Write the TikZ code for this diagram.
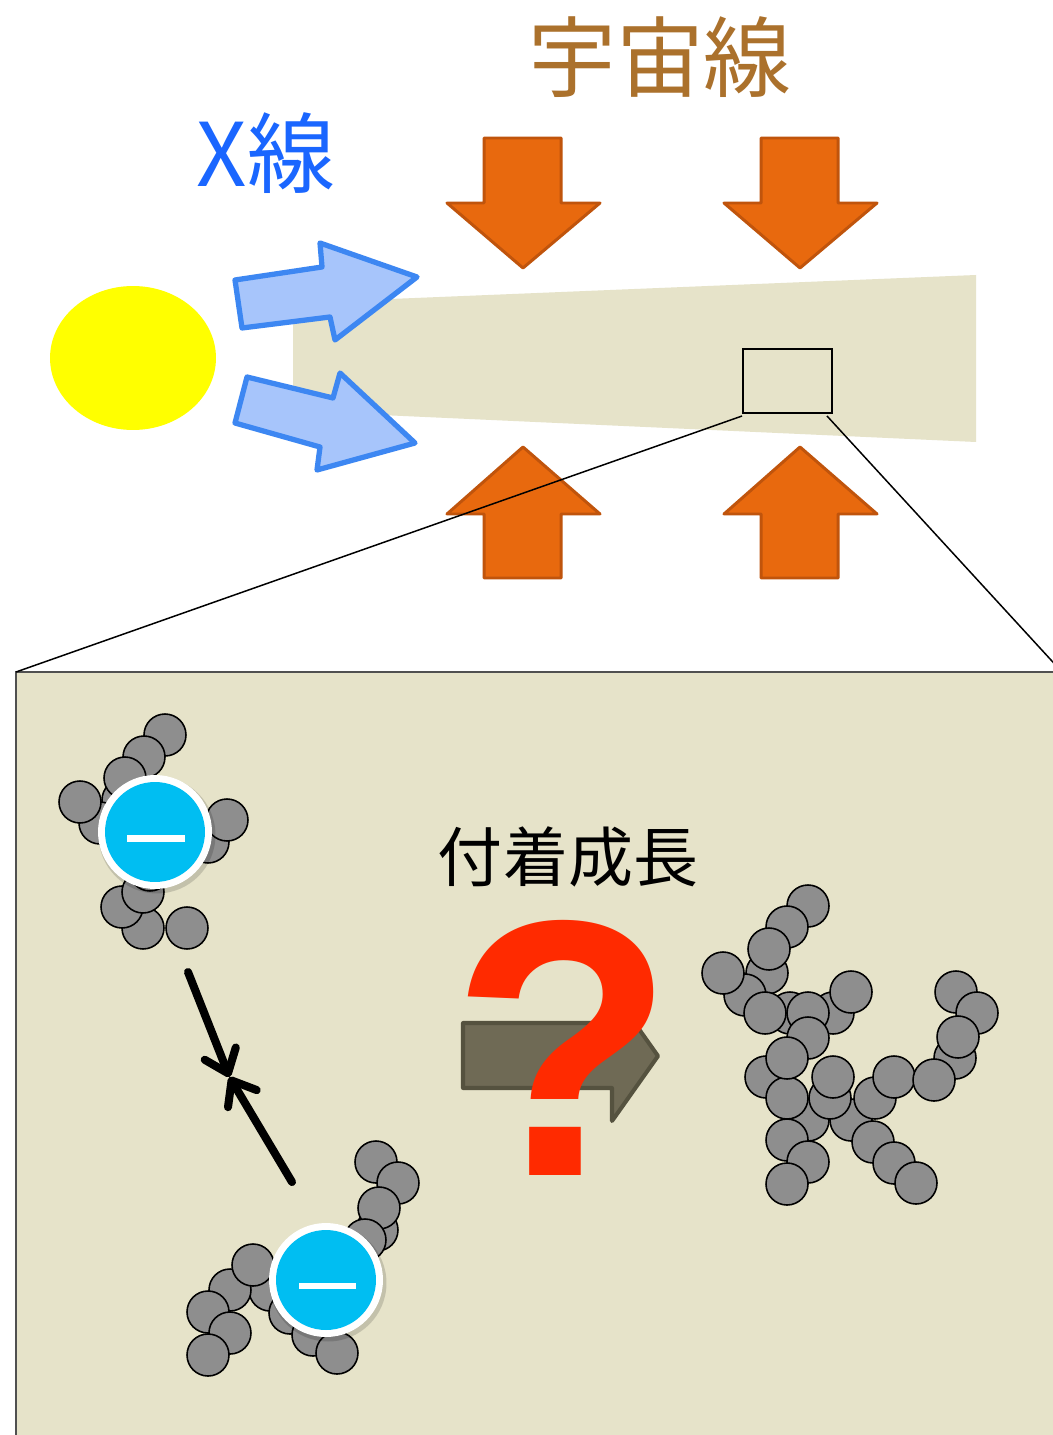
\documentclass[tikz,border=0pt]{standalone}
\usepackage{fontspec}
\newfontfamily\jp{Noto Sans CJK JP}
\newfontfamily\qfont{Liberation Sans}
\usetikzlibrary{arrows.meta}
\definecolor{sand}{HTML}{E6E3C9}
\definecolor{sunyellow}{HTML}{FFFF00}
\definecolor{xfill}{HTML}{A7C5FB}
\definecolor{xline}{HTML}{3D87F2}
\definecolor{cosfill}{HTML}{E8690E}
\definecolor{cosline}{HTML}{C0540C}
\definecolor{cosmictext}{HTML}{AB712C}
\definecolor{xraytext}{HTML}{1A66FF}
\definecolor{panelline}{HTML}{505050}
\definecolor{beadgray}{HTML}{8E8E8E}
\definecolor{chargeblue}{HTML}{00BEF2}
\definecolor{growfill}{HTML}{6F6A55}
\definecolor{growline}{HTML}{55523F}
\definecolor{qred}{HTML}{FF2A00}
\begin{document}
\begin{tikzpicture}[x=0.02cm,y=-0.02cm,
  xarrow/.style={fill=xfill,draw=xline,line width=3pt,line join=round},
  cosmic/.style={fill=cosfill,draw=cosline,line width=1.7pt,line join=round},
  bead/.style={fill=beadgray,draw=black,line width=0.9pt},
  zoomline/.style={draw=black,line width=0.85pt},
  approach/.style={line width=4.6pt,line cap=round,
    -{Straight Barb[length=12pt,width=19pt,round]}},
  label/.style={inner sep=0pt,anchor=center}]

\clip (0,0) rectangle (1053,1435);
\fill[white] (0,0) rectangle (1053,1435);

% irradiated dust stream
\fill[sand] (293,303) -- (976,275) -- (976,442) -- (293,411) -- cycle;

% the star
\fill[sunyellow] (133,358) ellipse [x radius=1.66cm, y radius=1.44cm];

% X-ray arrows
\draw[xarrow] (235,280) -- (322,267) -- (320,243) -- (417,277) -- (335,340) -- (330,317) -- (242,328) -- cycle;
\draw[xarrow] (247,377) -- (333,398) -- (340,373) -- (415,443) -- (317,470) -- (320,447) -- (235,423) -- cycle;

% cosmic-ray arrows
\foreach \cx in {523,800} {
  \draw[cosmic] (\cx-39,138) -- (\cx+38,138) -- (\cx+38,203) -- (\cx+77,203)
    -- (\cx,268) -- (\cx-76,203) -- (\cx-39,203) -- cycle;
  \draw[cosmic] (\cx-39,578) -- (\cx+38,578) -- (\cx+38,514) -- (\cx+77,514)
    -- (\cx,447) -- (\cx-76,514) -- (\cx-39,514) -- cycle;
}

% labels
\node[label,text=cosmictext] (cosmic) at (660,57) {\jp\fontsize{50}{50}\selectfont 宇宙線};
\node[label,text=xraytext] (xray) at (266,153) {\jp\fontsize{50}{50}\selectfont X線};

% magnified region and its panel
\node[draw=black,line width=1.1pt,minimum width=1.78cm,minimum height=1.28cm,
  inner sep=0pt,anchor=north west] (zoombox) at (742,348) {};
\coordinate (zl) at (742,416);
\coordinate (zr) at (827,416);
\coordinate (pnw) at (16,672);
\coordinate (pne) at (1062,672);
\draw[fill=sand,draw=panelline,line width=1.2pt] (pnw) rectangle (1070,1450);
\draw[zoomline] (zl) -- (pnw);
\draw[zoomline] (zr) -- (pne);

% charged aggregate, upper left
\foreach \p in {(123,800),(100,823),(165,735),(144,757),(125,778),(80,802),
  (208,842),(227,820),(143,928),(187,928),(122,907),(143,892),(150,870)}
  \draw[bead] \p circle (0.42cm);
\fill[black,opacity=0.15] (157,835) circle (1.17cm);
\fill[white] (155,832) circle (1.14cm);
\fill[chargeblue] (155,832) circle (1.0cm);
\fill[white] (127,835) rectangle (185,842);

% charged aggregate, lower left
\foreach \p in {(377,1230),(376,1162),(398,1183),(379,1208),(365,1240),
  (270,1290),(290,1313),(230,1290),(253,1265),(208,1312),(230,1333),(208,1355),
  (313,1335),(337,1353)}
  \draw[bead] \p circle (0.42cm);
\fill[black,opacity=0.15] (328,1283) circle (1.17cm);
\fill[white] (326,1280) circle (1.14cm);
\fill[chargeblue] (326,1280) circle (1.0cm);
\fill[white] (299,1283) rectangle (356,1289);

% mutual approach
\coordinate (a1) at (188,972);
\coordinate (a2) at (292,1182);
\coordinate (meet) at (229.5,1077);
\draw[approach] (a1) -- (meet);
\draw[approach] (a2) -- (meet);

% grown aggregate
\foreach \p in {(808,906),(787,927),(767,973),(769,949),
  (745,995),(723,973),
  (790,1013),(765,1013),(833,1013),(808,1013),(851,992),
  (808,1038),(766,1077),(808,1120),(787,1098),(787,1058),
  (851,1120),(830,1098),(833,1077),(873,1142),(894,1163),(916,1183),
  (875,1098),(894,1077),
  (956,992),(977,1013),(955,1058),(958,1037),(934,1080),
  (787,1140),(808,1162),(787,1184)}
  \draw[bead] \p circle (0.42cm);

% growth step
\node[label] (growth) at (568,857) {\jp\fontsize{37}{37}\selectfont 付着成長};
\draw[fill=growfill,draw=growline,line width=2.3pt,line join=round]
  (463,1023) -- (612,1023) -- (612,991) -- (658,1056) -- (612,1121)
  -- (612,1088) -- (463,1088) -- cycle;
\node[label,text=qred] (query) at (563,1048)
  {\qfont\bfseries\fontsize{208}{208}\selectfont ?};

\end{tikzpicture}
\end{document}
